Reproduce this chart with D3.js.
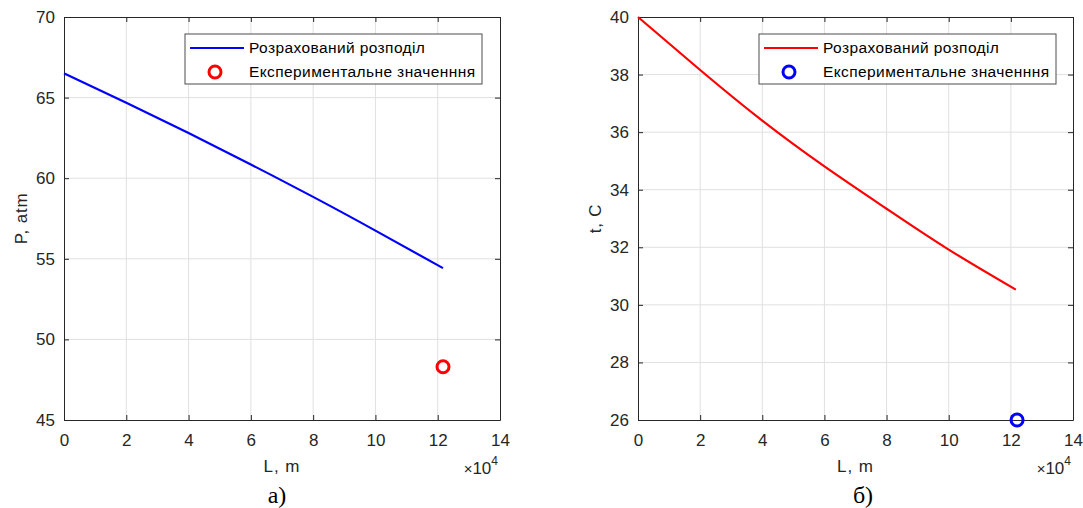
<!DOCTYPE html>
<html lang="uk">
<head>
<meta charset="UTF-8" />
<title>P and t distribution</title>
<script src="https://d3js.org/d3.v7.min.js"></script>
<style>
  body { margin: 0; background: #fff; }
  svg { display: block; font-family: "Liberation Sans", Arial, sans-serif; }
  .tick text { fill: #262626; }
</style>
</head>
<body>
<svg id="chart" width="1083" height="508"></svg>
<script>
// distance along pipe, x10^4 m
const distP = [0, 2, 4, 6, 8, 10, 12.17];
const pressure = [66.5, 64.68, 62.8, 60.85, 58.84, 56.75, 54.42];
const expP = [{ L: 12.17, v: 48.3 }];

const distT = [0, 2, 4, 6, 8, 10, 12.16];
const temperature = [40, 38.16, 36.4, 34.81, 33.34, 31.92, 30.53];
const expT = [{ L: 12.2, v: 26.0 }];

const xTicks = [0, 2, 4, 6, 8, 10, 12, 14];
const pTicks = [45, 50, 55, 60, 65, 70];
const tTicks = [26, 28, 30, 32, 34, 36, 38, 40];

const legendLabels = ["Розрахований розподіл", "Експериментальне значенння"];

const svg = d3.select("#chart");
const axisColor = "#262626";

function drawPanel(opt) {
  const { left, top, w, h } = opt;
  const g = svg.append("g").attr("transform", `translate(${left},${top})`);

  const x = d3.scaleLinear().domain([0, 14]).range([0, w]);
  const y = d3.scaleLinear().domain(opt.yDomain).range([h, 0]);

  // grid
  g.append("g").selectAll("line.gx")
    .data(xTicks.slice(1, -1)).enter().append("line")
    .attr("x1", d => x(d)).attr("x2", d => x(d))
    .attr("y1", 0).attr("y2", h)
    .attr("stroke", "#e0e0e0").attr("stroke-width", 1);
  g.append("g").selectAll("line.gy")
    .data(opt.yTicks.slice(1, -1)).enter().append("line")
    .attr("x1", 0).attr("x2", w)
    .attr("y1", d => y(d)).attr("y2", d => y(d))
    .attr("stroke", "#e0e0e0").attr("stroke-width", 1);

  // axes: ticks inside, box on all sides
  const styleAxis = sel => {
    sel.select(".domain").attr("stroke", axisColor);
    sel.selectAll(".tick line").attr("stroke", axisColor);
    sel.selectAll(".tick text").attr("font-size", "17px");
  };
  g.append("g").attr("transform", `translate(0,${h})`)
    .call(d3.axisBottom(x).tickValues(xTicks).tickSizeInner(-5).tickSizeOuter(0).tickPadding(14))
    .call(styleAxis);
  g.append("g")
    .call(d3.axisTop(x).tickValues(xTicks).tickSizeInner(-5).tickSizeOuter(0).tickFormat(""))
    .call(styleAxis);
  g.append("g")
    .call(d3.axisLeft(y).tickValues(opt.yTicks).tickSizeInner(-5).tickSizeOuter(0).tickPadding(9))
    .call(styleAxis);
  g.append("g").attr("transform", `translate(${w},0)`)
    .call(d3.axisRight(y).tickValues(opt.yTicks).tickSizeInner(-5).tickSizeOuter(0).tickFormat(""))
    .call(styleAxis);

  // calculated line (smooth through the read points)
  const pts = opt.dist.map((d, i) => ({ L: d, v: opt.values[i] }));
  const line = d3.line().curve(d3.curveNatural).x(d => x(d.L)).y(d => y(d.v));
  g.append("path").datum(pts)
    .attr("fill", "none").attr("stroke", opt.lineColor)
    .attr("stroke-width", 2.2).attr("d", line);

  // experimental point
  g.selectAll("circle.exp").data(opt.exp).enter().append("circle")
    .attr("cx", d => x(d.L)).attr("cy", d => y(d.v)).attr("r", 6)
    .attr("fill", "none").attr("stroke", opt.markColor).attr("stroke-width", 3);

  // axis labels
  g.append("text")
    .attr("x", w / 2).attr("y", h + 52)
    .attr("text-anchor", "middle").attr("font-size", "17px")
    .attr("letter-spacing", "1px").attr("fill", axisColor)
    .text("L, m");
  g.append("text")
    .attr("transform", `translate(${opt.yLabelX},${h / 2}) rotate(-90)`)
    .attr("text-anchor", "middle").attr("font-size", "17px")
    .attr("letter-spacing", "0.8px").attr("fill", axisColor)
    .text(opt.yLabel);

  // x10^4 exponent
  const ex = g.append("text")
    .attr("x", w - 2).attr("y", h + 54)
    .attr("text-anchor", "end").attr("font-size", "17px").attr("fill", axisColor);
  ex.append("tspan").attr("font-size", "15px").text("×");
  ex.append("tspan").text("10");
  ex.append("tspan").attr("dy", -9).attr("font-size", "12px").text("4");

  // legend
  const lg = g.append("g").attr("transform", `translate(${opt.legendX},17)`);
  lg.append("rect")
    .attr("width", 297).attr("height", 50)
    .attr("fill", "#fff").attr("stroke", "#4d4d4d").attr("stroke-width", 1);
  lg.append("line")
    .attr("x1", 5).attr("x2", 59).attr("y1", 14).attr("y2", 14)
    .attr("stroke", opt.lineColor).attr("stroke-width", 2.2);
  lg.append("circle")
    .attr("cx", 30).attr("cy", 38).attr("r", 6)
    .attr("fill", "none").attr("stroke", opt.markColor).attr("stroke-width", 3);
  lg.selectAll("text").data(legendLabels).enter().append("text")
    .attr("x", 64).attr("y", (d, i) => 14 + i * 24).attr("dy", "0.35em")
    .attr("font-size", "15.5px").attr("letter-spacing", "0.4px").attr("fill", "#000")
    .text(d => d);

  // subfigure caption
  svg.append("text")
    .attr("x", opt.captionX).attr("y", 503)
    .attr("text-anchor", "middle")
    .attr("font-family", "'Liberation Serif', 'Times New Roman', serif")
    .attr("font-size", "24px").attr("fill", "#000")
    .text(opt.caption);
}

drawPanel({
  left: 64, top: 17, w: 436, h: 403,
  yDomain: [45, 70], yTicks: pTicks,
  dist: distP, values: pressure, exp: expP,
  lineColor: "#0000ff", markColor: "#ff0000",
  yLabel: "P, atm", yLabelX: -37, legendX: 121,
  caption: "а)", captionX: 277
});

drawPanel({
  left: 638, top: 17, w: 435, h: 403,
  yDomain: [26, 40], yTicks: tTicks,
  dist: distT, values: temperature, exp: expT,
  lineColor: "#ff0000", markColor: "#0000ff",
  yLabel: "t, C", yLabelX: -37, legendX: 121,
  caption: "б)", captionX: 863
});
</script>
</body>
</html>
